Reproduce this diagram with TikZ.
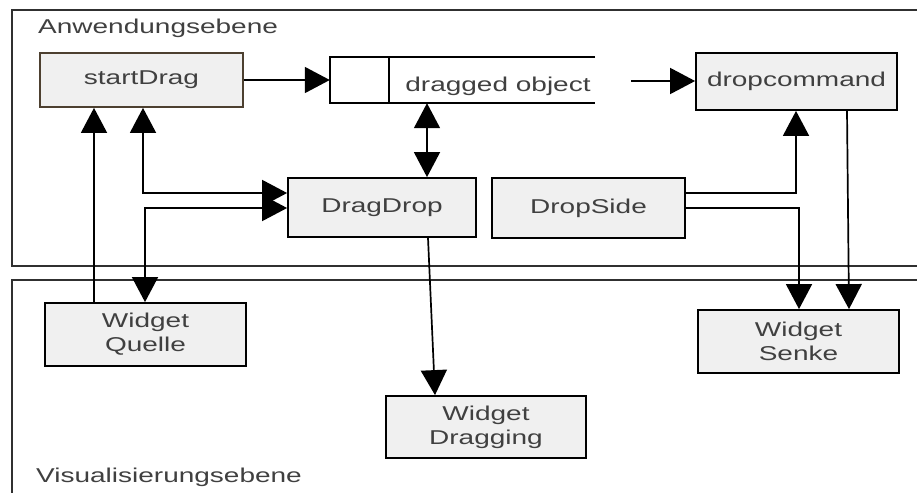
\documentclass[tikz,border=0pt]{standalone}
\usepackage{fontspec}
\usetikzlibrary{arrows.meta}
\newfontfamily\labfont[FakeStretch=1.4]{Liberation Sans}
\definecolor{boxfill}{HTML}{F0F0F0}
\definecolor{txt}{HTML}{404040}
\definecolor{brownedge}{HTML}{4D4030}
\definecolor{frame}{HTML}{303030}
\tikzset{
  box/.style={draw=black, line width=1.8pt, fill=boxfill, inner sep=0pt, text=txt,
    font=\labfont\fontsize{20}{24}\selectfont, align=center},
  tip/.style={Triangle[length=25pt,width=26pt]},
  conn/.style={line width=1.7pt, -{Triangle[length=25pt,width=26pt]}},
  bconn/.style={line width=1.7pt, {Triangle[length=25pt,width=26pt]}-{Triangle[length=25pt,width=26pt]}},
  frameline/.style={draw=frame, line width=2pt},
  layer/.style={text=txt, font=\labfont\fontsize{20}{24}\selectfont, anchor=base west, inner sep=0pt}
}
\begin{document}
\begin{tikzpicture}[x=1pt,y=-1pt]
\useasboundingbox (0,0) rectangle (917,493);
% layer frames
\draw[frameline] (917,10) -- (12,10) -- (12,266) -- (917,266);
\draw[frameline] (917,280) -- (12,280) -- (12,493);
\node[layer] (anw) at (38,33) {Anwendungsebene};
\node[layer] (vis) at (36,482) {Visualisierungsebene};
% boxes
\node[box, draw=brownedge, minimum width=203pt, minimum height=54pt] (start) at (141.5,80) {startDrag};
\node[box, minimum width=201pt, minimum height=57pt] (dropcmd) at (796.5,81.5) {dropcommand};
\node[box, minimum width=188pt, minimum height=59pt] (dragdrop) at (382,207.5) {DragDrop};
\node[box, minimum width=193pt, minimum height=60pt] (dropside) at (588.5,208) {DropSide};
\node[box, minimum width=201pt, minimum height=63pt] (quelle) at (145.5,334.5) {Widget\\Quelle};
\node[box, minimum width=200pt, minimum height=62pt] (dragging) at (486,427) {Widget\\Dragging};
\node[box, minimum width=201pt, minimum height=63pt] (senke) at (798.5,341.5) {Widget\\Senke};
% data store
\node[minimum width=265pt, minimum height=46pt, inner sep=0pt] (store) at (462.5,80) {};
\draw[line width=1.6pt] (store.north east) -- (store.north west) -- (store.south west) -- (store.south east);
\draw[line width=1.6pt] (store.north west) ++(59,0) coordinate (div1) -- (div1 |- store.south);
\node[text=txt, font=\labfont\fontsize{20}{24}\selectfont, inner sep=0pt] (storetxt) at (498,86) {dragged object};
% connectors
\draw[conn] (start.east) -- (store.west);
\coordinate (storeout) at (631,81);
\draw[conn] (storeout) -- (dropcmd.west |- storeout);
\draw[bconn] (store.south -| 427,0) -- (dragdrop.north -| 427,0);
\draw[conn] (quelle.north -| 94,0) -- (start.south -| 94,0);
\draw[bconn] (dragdrop.west |- 0,193) -| (start.south -| 143,0);
\draw[bconn] (dragdrop.west |- 0,208) -| (quelle.north -| 145,0);
\draw[conn] (dragdrop.south -| 428,0) -- (dragging.north -| 435,0);
\draw[conn] (dropside.east |- 0,193) -| (dropcmd.south -| 796,0);
\draw[conn] (dropside.east |- 0,208) -| (senke.north -| 799,0);
\draw[conn] (dropcmd.south -| 847,0) -- (senke.north -| 849,0);
\end{tikzpicture}
\end{document}
